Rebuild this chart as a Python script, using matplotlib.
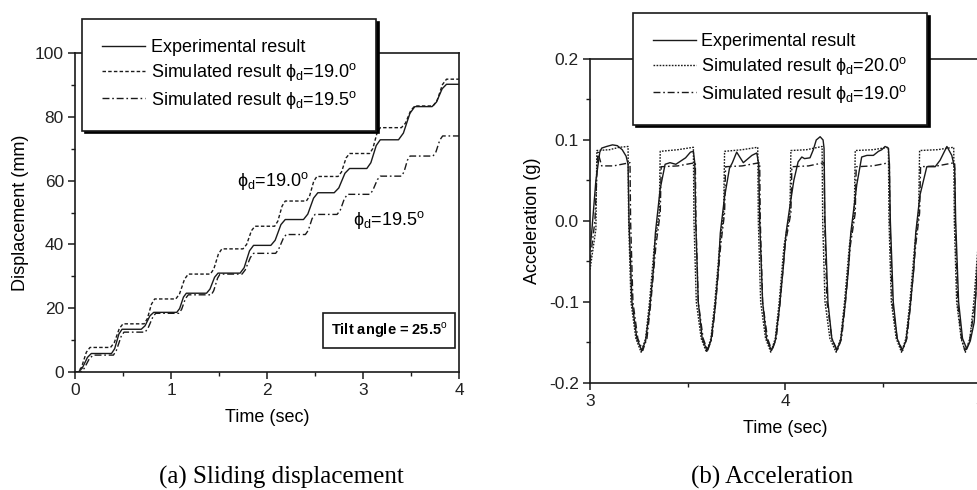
import matplotlib
matplotlib.use("Agg")
import matplotlib.pyplot as plt
from matplotlib.ticker import AutoMinorLocator, FormatStrFormatter

plt.rcParams['font.family'] = ['Liberation Sans', 'DejaVu Sans']
plt.rcParams['mathtext.fontset'] = 'custom'
plt.rcParams['mathtext.rm'] = 'Liberation Sans'
plt.rcParams['axes.unicode_minus'] = False

# (a) sliding displacement, mm vs sec
disp_t_exp = [0.0, 0.035, 0.075, 0.13, 0.17, 0.38, 0.413, 0.457, 0.49, 0.69, 0.73, 0.78, 0.82,
              1.06, 1.09, 1.13, 1.16, 1.37, 1.406, 1.454, 1.49, 1.72, 1.762, 1.818, 1.86,
              2.04, 2.085, 2.145, 2.19, 2.38, 2.425, 2.485, 2.53, 2.70, 2.748, 2.812, 2.86,
              3.04, 3.082, 3.138, 3.18, 3.37, 3.421, 3.489, 3.54, 3.72, 3.765, 3.825, 3.87, 4.0]
disp_exp = [0, 0, 1.2, 4.6, 5.8, 5.8, 7.3, 11.9, 13.4, 13.4, 14.5, 17.6, 18.7,
            18.7, 19.9, 23.5, 24.7, 24.7, 26.0, 29.7, 31.0, 31.0, 32.7, 38.0, 39.7,
            39.7, 41.3, 46.2, 47.8, 47.8, 49.5, 54.5, 56.2, 56.2, 57.7, 62.3, 63.8,
            63.8, 65.6, 71.0, 72.8, 72.8, 74.9, 81.1, 83.2, 83.2, 84.6, 88.8, 90.2, 90.2]

disp_t_190 = [0.0, 0.03, 0.068, 0.118, 0.156, 0.37, 0.409, 0.461, 0.50, 0.72, 0.753, 0.797, 0.83,
              1.05, 1.089, 1.141, 1.18, 1.41, 1.446, 1.494, 1.53, 1.75, 1.788, 1.838, 1.875,
              2.08, 2.113, 2.157, 2.19, 2.41, 2.443, 2.487, 2.52, 2.74, 2.776, 2.824, 2.86,
              3.07, 3.103, 3.147, 3.18, 3.40, 3.442, 3.498, 3.54, 3.73, 3.772, 3.828, 3.87, 4.0]
disp_190 = [0, 0, 1.5, 6.2, 7.7, 7.7, 9.2, 13.6, 15.1, 15.1, 16.7, 21.3, 22.9,
            22.9, 24.5, 29.1, 30.7, 30.7, 32.3, 37.0, 38.6, 38.6, 40.0, 44.3, 45.7,
            45.7, 47.3, 52.0, 53.6, 53.6, 55.1, 59.8, 61.3, 61.3, 62.7, 67.1, 68.5,
            68.5, 70.1, 75.0, 76.6, 76.6, 78.0, 82.0, 83.4, 83.4, 85.1, 90.1, 91.8, 91.8]

disp_t_195 = [0.0, 0.06, 0.095, 0.15, 0.19, 0.40, 0.43, 0.48, 0.51, 0.73, 0.76, 0.81, 0.84,
              1.08, 1.11, 1.15, 1.18, 1.42, 1.445, 1.485, 1.51, 1.74, 1.773, 1.827, 1.86,
              2.09, 2.12, 2.17, 2.20, 2.40, 2.43, 2.47, 2.50, 2.73, 2.763, 2.807, 2.84,
              3.07, 3.10, 3.15, 3.18, 3.40, 3.427, 3.463, 3.49, 3.73, 3.76, 3.80, 3.83, 4.0]
disp_195 = [0, 0, 1.1, 4.2, 5.3, 5.3, 6.7, 11.1, 12.5, 12.5, 13.7, 17.2, 18.4,
            18.4, 19.6, 23.0, 24.2, 24.2, 25.5, 29.4, 30.7, 30.7, 32.0, 35.9, 37.2,
            37.2, 38.4, 41.9, 43.1, 43.1, 44.4, 48.1, 49.4, 49.4, 50.7, 54.4, 55.7,
            55.7, 56.8, 60.3, 61.4, 61.4, 62.7, 66.4, 67.7, 67.7, 69.0, 72.7, 74.0, 74.0]

# (b) acceleration, g vs sec
acc_t_exp = [3.000, 3.010, 3.030, 3.050, 3.060, 3.085, 3.115, 3.140, 3.165, 3.185, 3.195,
             3.200, 3.215, 3.240, 3.265, 3.285, 3.305, 3.325, 3.335, 3.360, 3.385,
             3.410, 3.440, 3.465, 3.490, 3.515, 3.530, 3.537, 3.542, 3.555, 3.575, 3.600,
             3.620, 3.640, 3.658, 3.668, 3.690, 3.715, 3.730, 3.752, 3.786, 3.830, 3.855,
             3.865, 3.870, 3.885, 3.905, 3.930, 3.950, 3.970, 3.990, 4.005, 4.026, 4.045,
             4.067, 4.086, 4.100, 4.128, 4.145, 4.160, 4.180, 4.195, 4.200, 4.205, 4.220,
             4.240, 4.265, 4.285, 4.305, 4.325, 4.337, 4.368, 4.393, 4.420, 4.453, 4.479,
             4.496, 4.513, 4.530, 4.535, 4.540, 4.555, 4.575, 4.600, 4.620, 4.640, 4.660,
             4.670, 4.692, 4.727, 4.770, 4.795, 4.830, 4.855, 4.870, 4.875, 4.890, 4.910,
             4.932, 4.950, 4.970, 4.990, 5.000]
acc_exp = [-0.035, -0.010, 0.050, 0.085, 0.090, 0.092, 0.094, 0.093, 0.088, 0.080, 0.070,
           0.000, -0.100, -0.145, -0.160, -0.148, -0.110, -0.060, -0.015, 0.040, 0.070,
           0.072, 0.070, 0.074, 0.078, 0.085, 0.086, 0.072, 0.000, -0.100, -0.145, -0.160,
           -0.148, -0.110, -0.060, -0.015, 0.030, 0.065, 0.072, 0.085, 0.072, 0.081, 0.084,
           0.070, 0.000, -0.100, -0.145, -0.160, -0.148, -0.110, -0.060, -0.015, 0.020, 0.050,
           0.073, 0.079, 0.077, 0.078, 0.088, 0.100, 0.104, 0.100, 0.090, 0.000, -0.100,
           -0.145, -0.160, -0.148, -0.110, -0.060, -0.015, 0.045, 0.079, 0.081, 0.081, 0.086,
           0.088, 0.092, 0.090, 0.070, 0.000, -0.100, -0.145, -0.160, -0.148, -0.110, -0.060,
           -0.015, 0.032, 0.067, 0.067, 0.075, 0.092, 0.081, 0.065, 0.000, -0.100, -0.145,
           -0.158, -0.148, -0.125, -0.040, 0.000]

acc_t_200 = [3.000, 3.030, 3.035, 3.100, 3.150, 3.195, 3.198, 3.210, 3.235, 3.262, 3.285,
             3.305, 3.330, 3.355, 3.360, 3.450, 3.530, 3.533, 3.545, 3.570, 3.597, 3.620,
             3.640, 3.665, 3.685, 3.690, 3.780, 3.860, 3.863, 3.875, 3.900, 3.927, 3.950,
             3.970, 3.995, 4.025, 4.030, 4.110, 4.190, 4.193, 4.205, 4.230, 4.262, 4.285,
             4.305, 4.330, 4.355, 4.360, 4.450, 4.530, 4.533, 4.545, 4.570, 4.597, 4.620,
             4.640, 4.665, 4.685, 4.690, 4.780, 4.865, 4.868, 4.880, 4.903, 4.925, 4.948,
             4.968, 4.990, 5.000]
acc_200 = [-0.060, -0.010, 0.087, 0.088, 0.091, 0.092, 0.000, -0.100, -0.145, -0.162, -0.145,
           -0.100, -0.030, 0.010, 0.086, 0.088, 0.091, 0.000, -0.100, -0.145, -0.162, -0.145,
           -0.100, -0.030, 0.010, 0.086, 0.088, 0.091, 0.000, -0.100, -0.145, -0.162, -0.145,
           -0.100, -0.030, 0.010, 0.087, 0.088, 0.092, 0.000, -0.100, -0.145, -0.162, -0.145,
           -0.100, -0.030, 0.010, 0.087, 0.088, 0.091, 0.000, -0.100, -0.145, -0.162, -0.145,
           -0.100, -0.030, 0.010, 0.087, 0.088, 0.091, 0.000, -0.100, -0.145, -0.162, -0.145,
           -0.100, -0.030, 0.000]

acc_t_190 = [3.000, 3.025, 3.040, 3.060, 3.120, 3.205, 3.208, 3.220, 3.245, 3.270, 3.292,
             3.312, 3.338, 3.360, 3.365, 3.450, 3.540, 3.543, 3.555, 3.580, 3.603, 3.625,
             3.645, 3.670, 3.690, 3.695, 3.780, 3.870, 3.873, 3.885, 3.910, 3.933, 3.955,
             3.975, 4.000, 4.030, 4.035, 4.120, 4.200, 4.203, 4.215, 4.240, 4.268, 4.290,
             4.310, 4.335, 4.360, 4.365, 4.450, 4.535, 4.538, 4.550, 4.575, 4.603, 4.625,
             4.645, 4.670, 4.690, 4.695, 4.780, 4.870, 4.873, 4.885, 4.905, 4.922, 4.945,
             4.970, 5.000]
acc_190 = [-0.050, 0.000, 0.085, 0.068, 0.068, 0.072, 0.000, -0.100, -0.145, -0.160, -0.145,
           -0.100, -0.030, 0.010, 0.067, 0.068, 0.072, 0.000, -0.100, -0.145, -0.160, -0.145,
           -0.100, -0.030, 0.010, 0.067, 0.068, 0.072, 0.000, -0.100, -0.145, -0.160, -0.145,
           -0.100, -0.030, 0.010, 0.067, 0.068, 0.072, 0.000, -0.100, -0.145, -0.160, -0.145,
           -0.100, -0.030, 0.010, 0.067, 0.068, 0.072, 0.000, -0.100, -0.145, -0.160, -0.145,
           -0.100, -0.030, 0.010, 0.067, 0.068, 0.072, 0.000, -0.100, -0.145, -0.160, -0.150,
           -0.110, -0.040]

phi_d = "ϕ$_{\\rm d}$"
deg = "$^{\\rm o}$"
labels_a = ["Experimental result",
            "Simulated result " + phi_d + "=19.0" + deg,
            "Simulated result " + phi_d + "=19.5" + deg]
labels_b = ["Experimental result",
            "Simulated result " + phi_d + "=20.0" + deg,
            "Simulated result " + phi_d + "=19.0" + deg]

ink = '#1a1a1a'
dot_a = (0, (2.5, 1.6))
dot_b = (0, (1.2, 1.0))
dashdot = (0, (5.0, 2.0, 1.2, 2.0))


def style_axes(ax):
    for sp in ax.spines.values():
        sp.set_color(ink)
        sp.set_linewidth(1.2)
    ax.xaxis.set_minor_locator(AutoMinorLocator(2))
    ax.yaxis.set_minor_locator(AutoMinorLocator(2))
    ax.tick_params(which='major', direction='out', length=5, width=1.1, color=ink,
                   labelsize=12.5, labelcolor='#222222', pad=3)
    ax.tick_params(which='minor', direction='out', length=3, width=1.0, color=ink)


def add_legend(ax, x0, y0):
    leg = ax.legend(loc='upper left', bbox_to_anchor=(x0, y0), bbox_transform=fig.transFigure,
                    borderaxespad=0, fontsize=13, frameon=True, fancybox=False, edgecolor=ink,
                    framealpha=1, shadow={'color': 'black', 'alpha': 1.0}, handlelength=2.4,
                    handletextpad=0.3, borderpad=1.1, labelspacing=0.3)
    leg.get_frame().set_linewidth(1.2)
    leg.set_zorder(5)
    return leg


fig = plt.figure(figsize=(9.78, 4.90), dpi=100)

ax1 = fig.add_axes([0.0767, 0.2408, 0.3926, 0.651])
ax1.plot(disp_t_exp, disp_exp, color=ink, lw=1.0, label=labels_a[0])
ax1.plot(disp_t_190, disp_190, color=ink, lw=1.0, linestyle=dot_a, label=labels_a[1])
ax1.plot(disp_t_195, disp_195, color=ink, lw=1.0, linestyle=dashdot, label=labels_a[2])
ax1.set_xlim(0, 4)
ax1.set_ylim(0, 100)
ax1.set_xticks([0, 1, 2, 3, 4])
ax1.set_yticks([0, 20, 40, 60, 80, 100])
style_axes(ax1)
ax1.set_xlabel("Time (sec)", fontsize=13, labelpad=8)
ax1.set_ylabel("Displacement (mm)", fontsize=13, labelpad=4)
ax1.text(1.69, 60, phi_d + "=19.0" + deg, fontsize=13, va='center', ha='left')
ax1.text(2.90, 47.8, phi_d + "=19.5" + deg, fontsize=13, va='center', ha='left')
ax1.text(3.27, 13, "Tilt angle = 25.5" + deg, fontsize=10.5, fontweight='bold',
         ha='center', va='center',
         bbox=dict(boxstyle='square,pad=0.5', facecolor='white', edgecolor=ink, linewidth=1.2))
add_legend(ax1, 0.0838, 0.961)

ax2 = fig.add_axes([0.6033, 0.2184, 0.3988, 0.6612])
ax2.plot(acc_t_exp, acc_exp, color=ink, lw=1.0, label=labels_b[0])
ax2.plot(acc_t_200, acc_200, color=ink, lw=1.0, linestyle=dot_b, label=labels_b[1])
ax2.plot(acc_t_190, acc_190, color=ink, lw=1.0, linestyle=dashdot, label=labels_b[2])
ax2.set_xlim(3, 5)
ax2.set_ylim(-0.2, 0.2)
ax2.set_xticks([3, 4, 5])
ax2.set_yticks([-0.2, -0.1, 0.0, 0.1, 0.2])
ax2.yaxis.set_major_formatter(FormatStrFormatter('%.1f'))
style_axes(ax2)
ax2.set_xlabel("Time (sec)", fontsize=13, labelpad=8)
ax2.set_ylabel("Acceleration (g)", fontsize=13, labelpad=6)
add_legend(ax2, 0.647, 0.9735)

fig.text(0.288, 0.0265, "(a) Sliding displacement", fontsize=18, family='Liberation Serif',
         ha='center', va='center')
fig.text(0.789, 0.0265, "(b) Acceleration", fontsize=18, family='Liberation Serif',
         ha='center', va='center')

fig.savefig("out.png", dpi=100)
